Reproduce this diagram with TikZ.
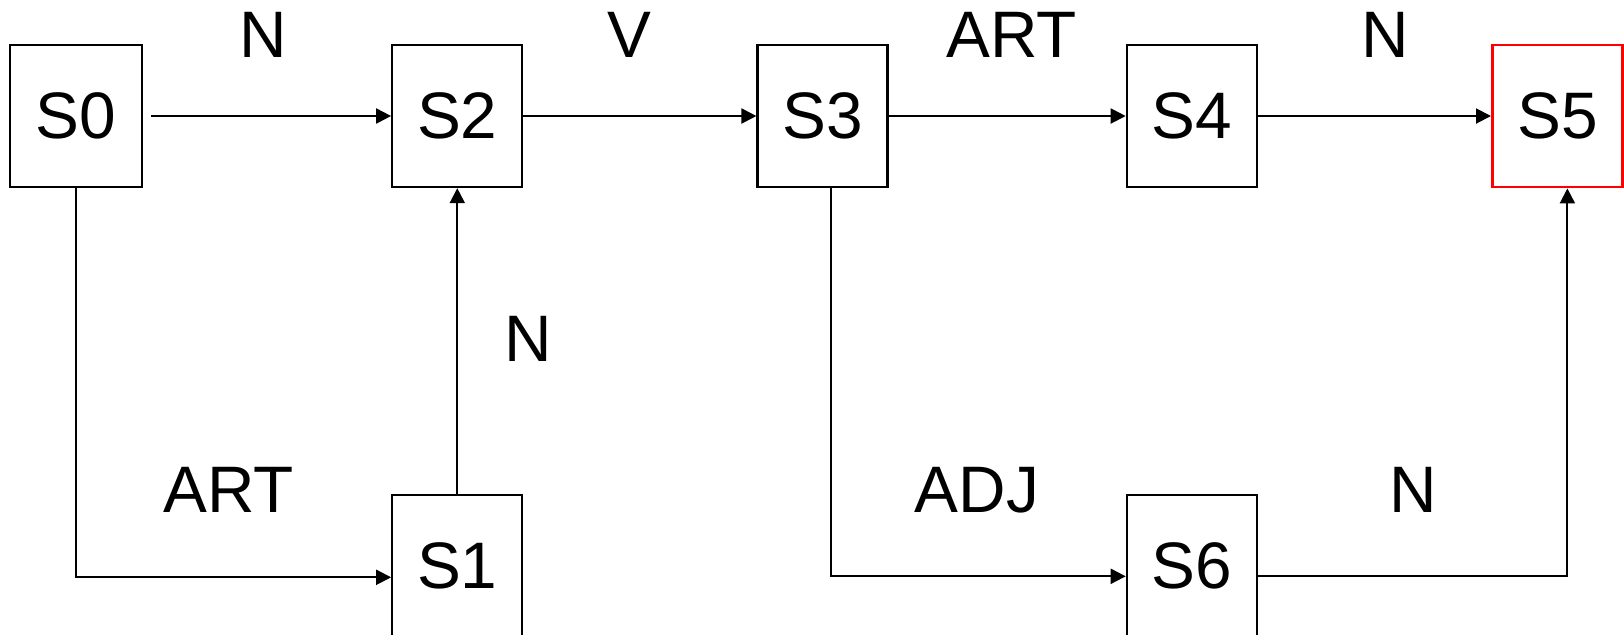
\documentclass[tikz,border=0pt]{standalone}
\usepackage{fontspec}
\setmainfont{Liberation Sans}
\usepackage{xcolor}
\definecolor{FinalRed}{HTML}{FF0000}
\usepackage{tikz}
\usetikzlibrary{arrows.meta, positioning, calc}
\tikzstyle{state} = [rectangle, draw=black, fill=white, minimum width=1.3cm, minimum height=1.42cm, inner sep=0pt, text centered, line width=0.65pt, font=\fontsize{18.7}{22}\selectfont]
\tikzstyle{arrow} = [-{Triangle[length=0.15cm,width=0.15cm]}, line width=0.57pt]
\tikzstyle{tag} = [inner sep=0pt, font=\fontsize{18.7}{22}\selectfont]

\begin{document}
\begin{tikzpicture}
        \useasboundingbox (0,0) rectangle (16.24,-6.34);

        \node [state, minimum width=1.32cm] (s0) at (0.76,-1.16) {S0};
        \node [state, right=2.48cm of s0] (s2) {S2};
        \node [state, right=2.33cm of s2] (s3) {S3};
        \node [state, right=2.37cm of s3] (s4) {S4};
        \node [state, right=2.33cm of s4, draw=FinalRed, line width=0.8pt] (s5) {S5};

        \node [state, below=3.06cm of s2] (s1) {S1};
        \node [state, below=3.06cm of s4] (s6) {S6};

        % transition labels
        \node [tag] (n02) at (2.63,-0.35) {N};
        \node [tag] (v23) at (6.29,-0.35) {V};
        \node [tag] (art34) at (10.12,-0.35) {ART};
        \node [tag] (n45) at (13.85,-0.35) {N};
        \node [tag] (n12) at (5.28,-3.39) {N};
        \node [tag] (art01) at (2.29,-4.90) {ART};
        \node [tag] (adj36) at (9.77,-4.90) {ADJ};
        \node [tag] (n65) at (14.13,-4.90) {N};

        \draw [arrow, shorten <=0.08cm] (s0) -- (s2);
        \draw [arrow] (s2) -- (s3);
        \draw [arrow] (s3) -- (s4);
        \draw [arrow] (s4) -- (s5);

        \draw [arrow] (s0.south) |- ([yshift=-0.11cm]s1.west);
        \draw [arrow] (s1) -- (s2);
        \draw [arrow] ([xshift=0.085cm]s3.south) |- ([yshift=-0.1cm]s6.west);
        \draw [arrow] ([yshift=-0.1cm]s6.east) -| ([xshift=0.1cm]s5.south);
    \end{tikzpicture}
\end{document}
